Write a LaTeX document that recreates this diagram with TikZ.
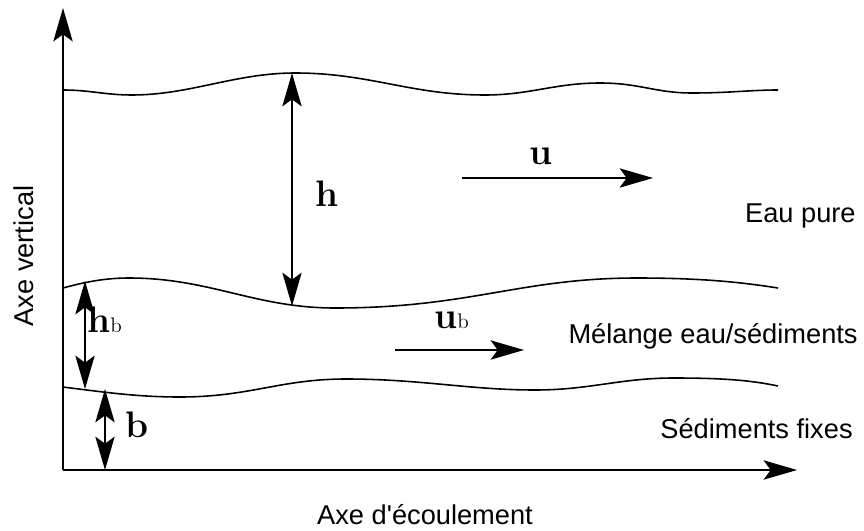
\documentclass[tikz,border=0pt]{standalone}
\usepackage{fontspec}
\setsansfont{Liberation Sans}
\usetikzlibrary{arrows.meta}

\newcommand{\smallb}{{\fontsize{12}{12}\selectfont\mdseries b}}

\begin{document}
\begin{tikzpicture}[
    x=0.02cm, y=-0.02cm,
    axis/.style={line width=1.1pt,-{Stealth[length=19pt,width=11pt,inset=4pt]}},
    layer/.style={line width=0.9pt},
    dim/.style={line width=0.8pt,{Stealth[length=19pt,width=11pt,inset=4pt]}-{Stealth[length=19pt,width=11pt,inset=4pt]}},
    flow/.style={line width=0.8pt,-{Stealth[length=19pt,width=11pt,inset=4pt]}},
    zone/.style={font=\sffamily\fontsize{15.5}{18}\selectfont,inner sep=0pt},
    sym/.style={font=\fontsize{21}{24}\selectfont\bfseries,inner sep=0pt}
]
\useasboundingbox (0,0) rectangle (864,530);

% Axes
\coordinate (O)  at (63,470);
\coordinate (yT) at (63,8);
\coordinate (xT) at (797,470);
\draw[axis] (O) -- (yT);
\draw[axis] (O) -- (xT);

% Free surface
\draw[layer] (63,90) .. controls (90,90) and (105,95) .. (132,95)
  .. controls (190,95) and (235,73) .. (295,73)
  .. controls (370,73) and (410,95) .. (485,95)
  .. controls (530,95) and (555,83) .. (600,83)
  .. controls (640,83) and (655,93) .. (692,93)
  .. controls (730,93) and (750,90) .. (778,90);

% Top of the mixing layer
\draw[layer] (63,288) .. controls (85,282) and (105,278) .. (129,278)
  .. controls (210,278) and (255,308) .. (335,308)
  .. controls (470,308) and (520,278) .. (637,278)
  .. controls (700,278) and (740,282) .. (778,288);

% Top of the fixed bed
\draw[layer] (63,387) .. controls (110,393) and (140,397) .. (180,397)
  .. controls (250,397) and (280,379) .. (346,379)
  .. controls (420,379) and (470,390) .. (535,390)
  .. controls (590,390) and (620,378) .. (674,378)
  .. controls (720,378) and (750,380) .. (778,386);

% Thicknesses
\coordinate (hT)  at (292,73);
\coordinate (hB)  at (292,306);
\coordinate (hbT) at (85,281);
\coordinate (hbB) at (85,389);
\coordinate (bT)  at (105,389);
\coordinate (bB)  at (105,470);
\draw[dim] (hT) -- (hB);
\draw[dim] (hbT) -- (hbB);
\draw[dim] (bT) -- (bB);

\node[sym,anchor=base] (h) at (327,206) {h};
\node[sym,anchor=base west] (hb) at (87,332) {h\smallb};
\node[sym,anchor=base] (b) at (137,437) {b};

% Velocities
\coordinate (uL)  at (462,178);
\coordinate (uR)  at (653,178);
\coordinate (ubL) at (395,350);
\coordinate (ubR) at (524,350);
\draw[flow] (uL) -- (uR);
\draw[flow] (ubL) -- (ubR);

\node[sym,anchor=base] (u) at (541,165) {u};
\node[sym,anchor=base west] (ub) at (434,328) {u\smallb};

% Layer names
\node[zone,anchor=base east] (pure) at (856,222) {Eau pure};
\node[zone,anchor=base east] (mix)  at (858,343) {Mélange eau/sédiments};
\node[zone,anchor=base east] (bed)  at (853,438) {Sédiments fixes};

% Axis names
\node[zone,anchor=base] (xlab) at (425,524) {Axe d\textquotesingle écoulement};
\node[zone,rotate=90,anchor=base] (ylab) at (33,256) {Axe vertical};

\end{tikzpicture}
\end{document}
